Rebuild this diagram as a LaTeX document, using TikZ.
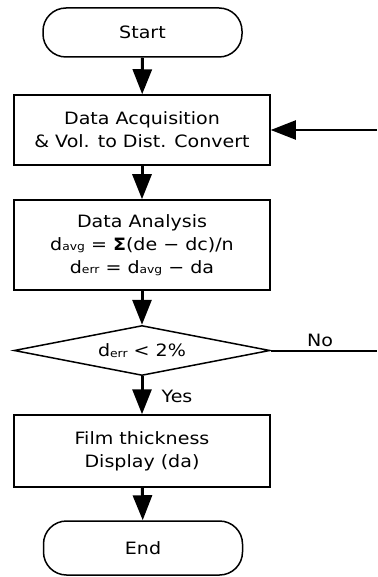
\documentclass[tikz,border=0pt]{standalone}
\usepackage{fontspec}
\setmainfont{DejaVu Sans}[FakeStretch=1.12]
\usetikzlibrary{arrows.meta,shapes.geometric}
\newcommand{\sbs}[1]{\raisebox{-0.5pt}{\fontsize{11}{11}\selectfont #1}}
\newcommand{\bigfont}{\fontsize{17}{23}\selectfont}
\begin{document}
\begin{tikzpicture}[x=1pt,y=-1pt,
  box/.style={draw,line width=1.5pt,minimum width=256pt,inner sep=0pt,align=center,font=\bigfont},
  term/.style={box,minimum width=199pt,rounded corners=23pt},
  dec/.style={draw,line width=1.5pt,diamond,aspect=5.1,minimum width=256pt,minimum height=50pt,inner sep=0pt,font=\bigfont},
  flow/.style={line width=3pt,-{Triangle[width=19pt,length=25pt]}},
  lbl/.style={font=\bigfont,inner sep=0pt}
]
\useasboundingbox (0,0) rectangle (377,577);
\node[term,minimum height=49pt] (start) at (142.5,32.5) {Start};
\node[box,minimum height=70pt] (acq) at (142,130) {Data Acquisition\\\& Vol. to Dist. Convert};
\node[box,minimum height=90pt] (ana) at (142,245) {Data Analysis\\d\sbs{avg} = \textbf{Σ}(de − dc)/n\\d\sbs{err} = d\sbs{avg} − da};
\node[dec] (dc) at (142,350.5) {d\sbs{err} < 2\%};
\node[box,minimum height=72pt] (disp) at (142,451) {Film thickness\\Display (da)};
\node[term,minimum height=54pt] (end) at (143,548) {End};
\coordinate (fb) at (377,130);
\coordinate (no) at (377,350.5);
\draw[flow] (start) -- (acq);
\draw[flow] (acq) -- (ana);
\draw[flow] (ana) -- (dc.north);
\draw[flow] (dc.south) -- (disp);
\draw[flow] (disp) -- (end);
\draw[flow,line width=2pt] (fb) -- (acq.east);
\draw[line width=2pt] (dc.east) -- (no);
\node[lbl] (nolbl) at (320,340) {No};
\node[lbl] (yeslbl) at (177,396) {Yes};
\end{tikzpicture}
\end{document}
